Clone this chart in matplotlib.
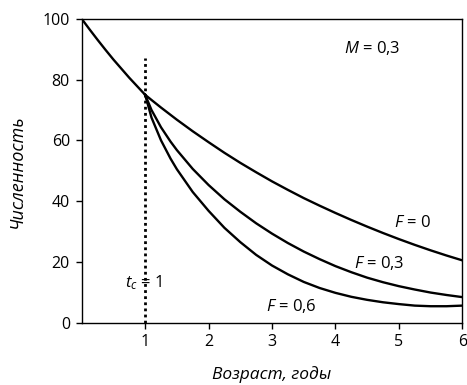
import matplotlib
matplotlib.use("Agg")
import matplotlib.pyplot as plt

# --- data ---
age_pre = [0, 0.125, 0.25, 0.375, 0.5, 0.625, 0.75, 0.875, 1.0]
n_pre = [100, 96.5, 93.1, 89.8, 86.6, 83.6, 80.6, 77.8, 75.0]

age = [1.0, 1.1, 1.25, 1.4, 1.5, 1.75, 2.0, 2.25, 2.5, 2.75, 3.0, 3.25, 3.5,
       3.75, 4.0, 4.25, 4.5, 4.75, 5.0, 5.25, 5.5, 5.75, 6.0]
n_f0 = [75.0, 73.3, 70.8, 68.4, 66.8, 63.0, 59.4, 55.9, 52.6, 49.5, 46.5, 43.7, 41.0,
        38.5, 36.1, 33.8, 31.6, 29.5, 27.5, 25.6, 23.8, 22.1, 20.5]
n_f03 = [75.0, 70.0, 64.3, 59.6, 56.8, 50.6, 45.3, 40.6, 36.5, 32.7, 29.3, 26.2, 23.4,
         20.9, 18.6, 16.6, 14.8, 13.3, 12.0, 10.9, 9.9, 9.1, 8.4]
n_f06 = [75.0, 67.5, 60.0, 54.0, 50.5, 43.0, 36.8, 31.2, 26.5, 22.3, 18.8, 15.9, 13.4,
         11.4, 9.8, 8.5, 7.5, 6.7, 6.1, 5.6, 5.4, 5.4, 5.6]

x_ticks = [1, 2, 3, 4, 5, 6]
y_ticks = [0, 20, 40, 60, 80, 100]
tc = 1
tc_top = 87

plt.rcParams['font.family'] = ['Open Sans', 'DejaVu Sans']
plt.rcParams['mathtext.fontset'] = 'custom'
plt.rcParams['mathtext.it'] = 'Open Sans:italic'
plt.rcParams['mathtext.rm'] = 'Open Sans'

fig = plt.figure(figsize=(4.67, 3.85), dpi=100)
ax = fig.add_axes([0.175, 0.162, 0.815, 0.789])

lw = 1.7
kw = dict(color='black', lw=lw, solid_joinstyle='round')
ax.plot(age_pre, n_pre, **kw)
ax.plot(age, n_f0, **kw)
ax.plot(age, n_f03, **kw)
ax.plot(age, n_f06, **kw)
ax.plot([tc, tc], [0, tc_top], color='black', lw=2.0, ls=(0, (1, 1.2)))

ax.set_xlim(0, 6)
ax.set_ylim(0, 100)
ax.set_xticks(x_ticks)
ax.set_yticks(y_ticks)
ax.tick_params(direction='out', length=4.5, width=1.0, labelsize=11.5, colors='black', pad=4)
for s in ax.spines.values():
    s.set_linewidth(1.0)

ax.set_xlabel('Возраст, годы', fontstyle='italic', fontsize=12.5, labelpad=11)
ax.set_ylabel('Численность', fontstyle='italic', fontsize=13, labelpad=12)

fs = 12
ax.text(4.14, 90.4, r'$M$ = 0,3', fontsize=fs, va='center', ha='left')
ax.text(4.93, 32.9, r'$F$ = 0', fontsize=fs, va='center', ha='left')
ax.text(4.29, 19.7, r'$F$ = 0,3', fontsize=fs, va='center', ha='left')
ax.text(2.91, 5.5, r'$F$ = 0,6', fontsize=fs, va='center', ha='left')
ax.text(0.68, 13.2, r'$t_c$ = 1', fontsize=fs, va='center', ha='left')

fig.savefig('out.png', dpi=100)
